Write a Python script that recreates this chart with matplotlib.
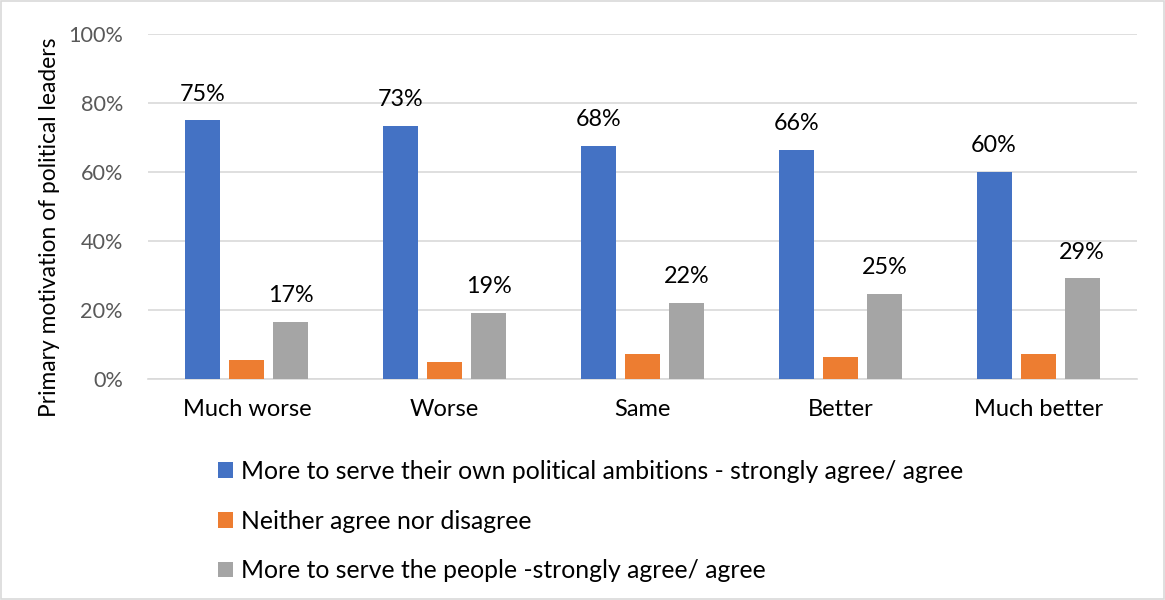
import matplotlib
matplotlib.use("Agg")
import matplotlib.pyplot as plt
import numpy as np
from matplotlib.patches import Rectangle

categories = ["Much worse", "Worse", "Same", "Better", "Much better"]
series_names = [
    "More to serve their own political ambitions - strongly agree/ agree",
    "Neither agree nor disagree",
    "More to serve the people -strongly agree/ agree",
]
own_ambitions = [75, 73.3, 67.5, 66.4, 60]
neither = [5.5, 5.0, 7.2, 6.3, 7.4]
serve_people = [16.6, 19.2, 22.0, 24.6, 29.2]
label_own = ["75%", "73%", "68%", "66%", "60%"]
label_people = ["17%", "19%", "22%", "25%", "29%"]
colors = ["#4472C4", "#ED7D31", "#A5A5A5"]
yticks = [0, 20, 40, 60, 80, 100]

plt.rcParams['font.family'] = ['Lato', 'DejaVu Sans']

fig = plt.figure(figsize=(11.65, 6.0), dpi=100)
ax = fig.add_axes([0.127, 0.368, 0.849, 0.575])

x = np.arange(len(categories))
w = 0.177
off = 0.223
bars = []
for i, (vals, c) in enumerate(zip([own_ambitions, neither, serve_people], colors)):
    b = ax.bar(x + (i - 1) * off, vals, width=w, color=c, zorder=3, label=series_names[i])
    bars.append(b)

for b, lab in zip(bars[0], label_own):
    ax.text(b.get_x() + b.get_width() / 2, b.get_height() + 4.6, lab, ha="center", va="bottom", fontsize=16.8, color="#000000")
for b, lab in zip(bars[2], label_people):
    ax.text(b.get_x() + b.get_width() / 2, b.get_height() + 4.6, lab, ha="center", va="bottom", fontsize=16.8, color="#000000")

ax.set_xlim(-0.5, len(categories) - 0.5)
ax.set_ylim(0, 100)
ax.set_yticks(yticks)
ax.set_yticklabels([f"{t}%" for t in yticks], fontsize=15.6, color="#595959")
ax.set_xticks(x)
ax.set_xticklabels(categories, fontsize=17, color="#000000")
ax.tick_params(axis="both", length=0)
ax.tick_params(axis="x", pad=14)
ax.tick_params(axis="y", pad=18)
ax.grid(axis="y", color="#D9D9D9", linewidth=1.2, zorder=0)
for s in ["top", "right", "left"]:
    ax.spines[s].set_visible(False)
ax.spines["bottom"].set_color("#D9D9D9")
ax.spines["bottom"].set_linewidth(1.2)
ax.set_ylabel("Primary motivation of political leaders", fontsize=16.4, color="#000000")
ax.yaxis.set_label_coords(-0.089, 0.44)

leg = fig.legend(handles=bars, labels=series_names, loc="upper left", bbox_to_anchor=(0.179, 0.25),
                 frameon=False, fontsize=17.8, handlelength=0.6, handleheight=0.6, handletextpad=0.3,
                 labelspacing=1.08, borderaxespad=0)

fig.patches.append(Rectangle((0.001, 0.001), 0.998, 0.997, transform=fig.transFigure, fill=False,
                             edgecolor="#D9D9D9", linewidth=1.2))

fig.savefig("out.png", dpi=100)
